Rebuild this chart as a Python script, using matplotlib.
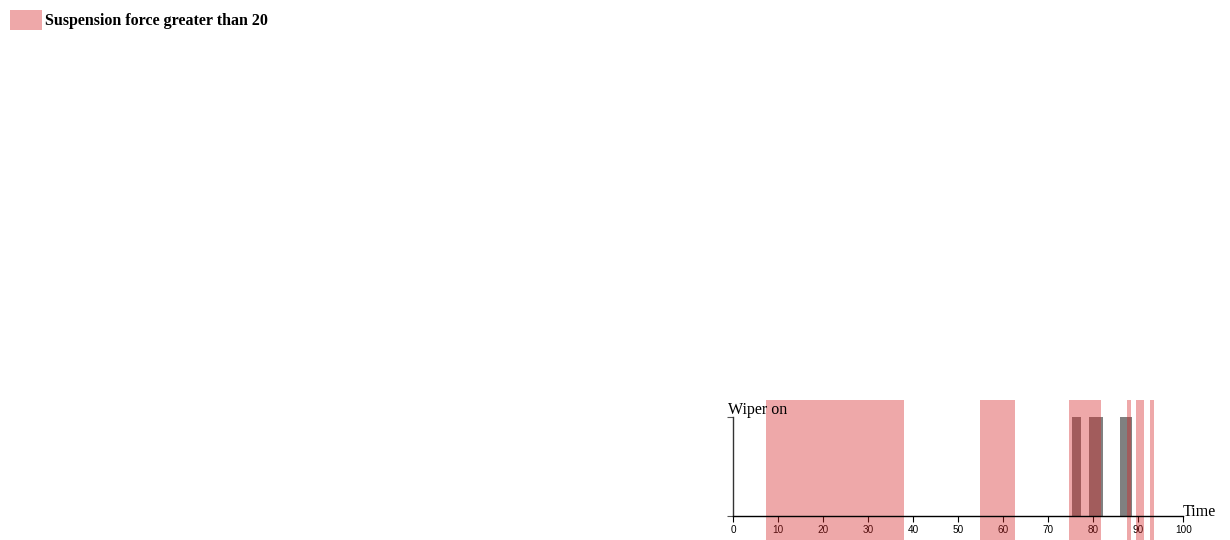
import matplotlib
matplotlib.use("Agg")
import matplotlib.pyplot as plt
from matplotlib.patches import Rectangle
import numpy as np

# Data
force_starts = [7.3, 54.8, 74.6, 87.5, 89.5, 92.6]
force_ends = [37.9, 62.6, 81.7, 88.3, 91.2, 93.5]
wiper_starts = [75.3, 79.0, 85.9]
wiper_ends = [77.2, 82.1, 88.5]
wiper_values = [1, 1, 1]
xticks = [0, 10, 20, 30, 40, 50, 60, 70, 80, 90, 100]
legend_label = "Suspension force greater than 20"

W, H = 1230, 540
fig = plt.figure(figsize=(W / 100, H / 100), dpi=100)

# axes in pixel coords: x 733.3..1183.3, y 400..540 (top to bottom)
x0, x1 = 733.3, 1183.3
ytop, ybot = 400, 540
base_px, one_px = 516, 416.7
ax = fig.add_axes([x0 / W, 1 - ybot / H, (x1 - x0) / W, (ybot - ytop) / H])
unit = base_px - one_px
ax.set_xlim(0, 100)
ax.set_ylim(-(ybot - base_px) / unit, 1 + (one_px - ytop) / unit)
ax.set_axisbelow(True)

pink = (214 / 255, 39 / 255, 40 / 255, 0.4)
widths = np.array(wiper_ends) - np.array(wiper_starts)
ax.bar(wiper_starts, wiper_values, width=widths, align="edge", color="#808080", zorder=1, linewidth=0)
for s, e in zip(force_starts, force_ends):
    ax.axvspan(s, e, ymin=0, ymax=1, color=pink, linewidth=0, zorder=2)

for sp in ["top", "right"]:
    ax.spines[sp].set_visible(False)
ax.spines["bottom"].set_position(("data", 0))
ax.spines["bottom"].set_bounds(0, 100)
ax.spines["left"].set_position(("data", 0))
ax.spines["left"].set_bounds(0, 1)
ax.spines["left"].set_color("#333333")
for sp in ["bottom", "left"]:
    ax.spines[sp].set_linewidth(1.0)
    ax.spines[sp].set_zorder(3)

ax.set_xticks(xticks)
ax.set_xticklabels([str(t) for t in xticks], fontsize=7.2, family="Liberation Sans")
ax.tick_params(axis="x", direction="out", length=4.5, width=0.8, pad=2, colors="black")
ax.set_yticks([0, 1])
ax.set_yticklabels([])
ax.tick_params(axis="y", direction="out", length=4.5, width=0.8, color="#555555")
ax.patch.set_alpha(0)

fig.text((728) / W, 1 - 414 / H, "Wiper on", fontsize=11.5, family="Liberation Serif", ha="left", va="baseline")
fig.text((1183) / W, 1 - 516 / H, "Time", fontsize=11.5, family="Liberation Serif", ha="left", va="baseline")

# legend
fig.patches.append(Rectangle((10 / W, 1 - 30 / H), 32 / W, 20 / H, transform=fig.transFigure,
                             facecolor=pink, edgecolor="none"))
fig.text(45 / W, 1 - 25 / H, legend_label, fontsize=11.5, family="Liberation Serif",
         weight="bold", ha="left", va="baseline")

fig.savefig("out.png", dpi=100)
